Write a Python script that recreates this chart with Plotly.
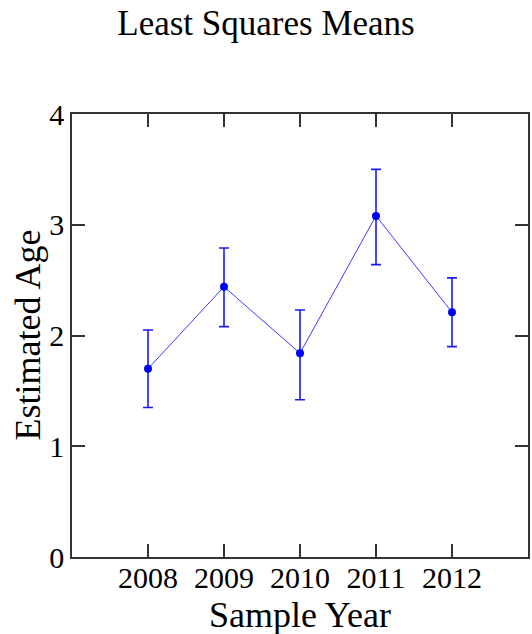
import plotly.graph_objects as go

years = [2008, 2009, 2010, 2011, 2012]
means = [1.70, 2.44, 1.84, 3.08, 2.21]
upper = [2.05, 2.79, 2.23, 3.50, 2.52]
lower = [1.35, 2.08, 1.42, 2.64, 1.90]
y_ticks = [0, 1, 2, 3, 4]

err_plus = [u - m for u, m in zip(upper, means)]
err_minus = [m - l for m, l in zip(means, lower)]

FONT = "Liberation Serif, Times New Roman, serif"
AX = "#333333"

W, H = 532, 634

fig = go.Figure()
fig.add_trace(go.Scatter(
    x=years, y=means,
    mode="lines+markers",
    line=dict(color="#3a3aff", width=1),
    marker=dict(color="#0000ff", size=8),
    error_y=dict(type="data", symmetric=False, array=err_plus, arrayminus=err_minus,
                 color="#1a1aff", thickness=1.6, width=5),
    showlegend=False,
    hoverinfo="skip",
))

fig.update_layout(
    width=W, height=H,
    margin=dict(l=72, r=4, t=114, b=77, autoexpand=False),
    paper_bgcolor="white", plot_bgcolor="white",
    font=dict(family=FONT, color="black"),
    title=dict(text="Least Squares Means", x=0.5, xanchor="center",
               y=1 - 23 / H, yanchor="middle", yref="container",
               font=dict(size=35, family=FONT, color="black")),
    xaxis=dict(range=[2007, 2013], tickvals=years, ticktext=[str(y) for y in years],
               showgrid=False, zeroline=False, showline=True, linecolor=AX, linewidth=1.5,
               ticks="inside", ticklen=13, tickwidth=1.5, tickcolor=AX, mirror="ticks",
               automargin=False, ticklabelstandoff=-7,
               tickfont=dict(size=30, family=FONT, color="black")),
    yaxis=dict(range=[0, 4], tickvals=y_ticks,
               showgrid=False, zeroline=False, showline=True, linecolor=AX, linewidth=1.5,
               ticks="inside", ticklen=13, tickwidth=1.5, tickcolor=AX, mirror="ticks",
               automargin=False,
               tickfont=dict(size=30, family=FONT, color="black")),
    annotations=[
        dict(text="Sample Year", xref="paper", yref="paper", x=0.5, y=-(615 - 557) / 443,
             xanchor="center", yanchor="middle", showarrow=False,
             font=dict(size=36, family=FONT, color="black")),
        dict(text="Estimated Age", xref="paper", yref="paper", x=(27 - 72) / 456, y=0.5,
             xanchor="center", yanchor="middle", textangle=-90, showarrow=False,
             font=dict(size=36, family=FONT, color="black")),
    ],
)

fig.write_html(
    "out.html",
    config={"displayModeBar": False},
    post_script="document.body.style.margin='0';document.body.style.overflow='hidden';",
)
